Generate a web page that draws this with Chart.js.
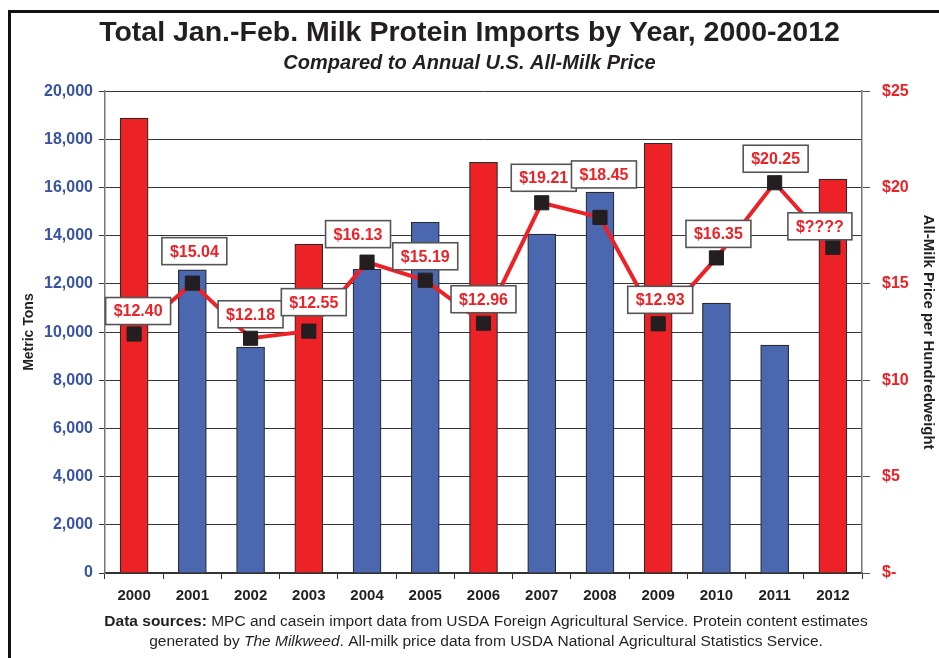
<!DOCTYPE html>
<html>
<head>
<meta charset="utf-8">
<script src="https://cdn.jsdelivr.net/npm/chart.js@4.4.1/dist/chart.umd.min.js"></script>
<style>
html, body { margin: 0; padding: 0; background: #fff; }
#wrap { position: relative; width: 939px; height: 658px; overflow: hidden; }
#frame { position: absolute; left: 8px; top: 10px; width: 1000px; height: 700px; border: 3px solid #111; }
#milkChart { position: absolute; left: 0; top: 0; }
</style>
</head>
<body>
<div id="wrap"><div id="frame"></div><canvas id="milkChart" width="939" height="658"></canvas></div>
<script>
const years = ['2000', '2001', '2002', '2003', '2004', '2005', '2006', '2007', '2008', '2009', '2010', '2011', '2012'];
const importTons = [18880, 12580, 9380, 13650, 12610, 14560, 17050, 14070, 15810, 17840, 11200, 9460, 16350];
const milkPrice = [12.40, 15.04, 12.18, 12.55, 16.13, 15.19, 12.96, 19.21, 18.45, 12.93, 16.35, 20.25, 16.90];
const priceLabels = ['$12.40', '$15.04', '$12.18', '$12.55', '$16.13', '$15.19', '$12.96', '$19.21', '$18.45', '$12.93', '$16.35', '$20.25', '$????'];
const redYears = ['2000', '2003', '2006', '2009', '2012'];

const RED = '#ec2227';
const BLUE = '#4a67b0';
const FONT = "'Liberation Sans', Arial, Helvetica, sans-serif";

// where each price box sits relative to its point (dx, dy of box centre)
const boxShift = [[4, -23], [2, -32], [0, -24], [5, -29], [-9, -28], [0, -24], [0, -24],
                  [2, -25], [4, -43], [2, -24], [2, -24], [1, -24], [-13, -21]];

const priceBoxes = {
    id: 'priceBoxes',
    afterDatasetsDraw(chart) {
        const ctx = chart.ctx;
        const meta = chart.getDatasetMeta(1);
        ctx.save();
        ctx.font = 'bold 16px ' + FONT;
        ctx.textAlign = 'center';
        ctx.textBaseline = 'middle';
        meta.data.forEach((pt, i) => {
            const cx = pt.x + boxShift[i][0];
            const cy = pt.y + boxShift[i][1];
            const w = ctx.measureText(priceLabels[i]).width + 16;
            const h = 27;
            ctx.fillStyle = '#fff';
            ctx.strokeStyle = '#555';
            ctx.lineWidth = 1.6;
            ctx.fillRect(cx - w / 2, cy - h / 2, w, h);
            ctx.strokeRect(cx - w / 2, cy - h / 2, w, h);
            ctx.fillStyle = RED;
            ctx.fillText(priceLabels[i], cx, cy + 1);
        });
        ctx.restore();
    }
};

const sourceNote = {
    id: 'sourceNote',
    afterDraw(chart) {
        const ctx = chart.ctx;
        const lines = [
            [['bold', 'Data sources: '], ['normal', 'MPC and casein import data from USDA Foreign Agricultural Service. Protein content estimates']],
            [['normal', 'generated by '], ['italic', 'The Milkweed'], ['normal', '. All-milk price data from USDA National Agricultural Statistics Service.']]
        ];
        const ys = [622, 642];
        ctx.save();
        ctx.fillStyle = '#231f20';
        ctx.textBaseline = 'middle';
        ctx.textAlign = 'left';
        lines.forEach((parts, li) => {
            let total = 0;
            parts.forEach(p => { ctx.font = p[0] + ' 15.5px ' + FONT; total += ctx.measureText(p[1]).width; });
            let x = 486 - total / 2;
            parts.forEach(p => {
                ctx.font = p[0] + ' 15.5px ' + FONT;
                ctx.fillText(p[1], x, ys[li]);
                x += ctx.measureText(p[1]).width;
            });
        });
        ctx.restore();
    }
};

Chart.defaults.font.family = FONT;

const ctx = document.getElementById('milkChart').getContext('2d');
new Chart(ctx, {
    data: {
        labels: years,
        datasets: [{
            type: 'bar',
            label: 'Milk protein imports (metric tons)',
            data: importTons,
            yAxisID: 'y',
            order: 1,
            backgroundColor: years.map(y => redYears.includes(y) ? RED : BLUE),
            borderColor: '#2a2a2a',
            borderWidth: 1.2,
            barThickness: 28
        }, {
            type: 'line',
            label: 'All-milk price',
            data: milkPrice,
            yAxisID: 'y1',
            order: 0,
            borderColor: RED,
            borderWidth: 4,
            pointStyle: 'rect',
            pointRadius: 10,
            pointBackgroundColor: '#231f20',
            pointBorderColor: '#231f20',
            pointBorderWidth: 1,
            tension: 0
        }]
    },
    options: {
        responsive: false,
        animation: false,
        layout: { padding: 0 },
        plugins: {
            legend: { display: false },
            tooltip: { enabled: false },
            title: {
                display: true,
                text: 'Total Jan.-Feb. Milk Protein Imports by Year, 2000-2012',
                color: '#231f20',
                font: { size: 28.5, weight: 'bold' },
                padding: { top: 16, bottom: 1 }
            },
            subtitle: {
                display: true,
                text: 'Compared to Annual U.S. All-Milk Price',
                color: '#231f20',
                font: { size: 20, weight: 'bold', style: 'italic' },
                padding: { top: 0, bottom: 16 }
            }
        },
        scales: {
            x: {
                afterFit: s => { s.height = 85; },
                grid: { offset: true, drawOnChartArea: false, tickLength: 6, color: '#333' },
                border: { color: '#333', width: 1.5 },
                ticks: { color: '#231f20', font: { size: 15, weight: 'bold' }, padding: 8 }
            },
            y: {
                position: 'left',
                min: 0,
                max: 20000,
                afterFit: s => { s.width = 105; },
                ticks: { stepSize: 2000, color: '#3953a4', font: { size: 16, weight: 'bold' }, padding: 6,
                         callback: v => v.toLocaleString('en-US') },
                grid: { color: '#333', lineWidth: 1, tickLength: 6 },
                border: { color: '#777', width: 1.5 },
                title: { display: true, text: 'Metric Tons', color: '#231f20',
                         font: { size: 14, weight: 'bold' }, padding: { top: 20.6, bottom: 0 } }
            },
            y1: {
                position: 'right',
                min: 0,
                max: 25,
                afterFit: s => { s.width = 77; },
                ticks: { stepSize: 5, color: RED, font: { size: 16, weight: 'bold' }, padding: 12,
                         callback: v => v === 0 ? '$-' : '$' + v },
                grid: { drawOnChartArea: false, color: '#555', tickLength: 8 },
                border: { color: '#777', width: 1.5 },
                title: { display: true, text: 'All-Milk Price per Hundredweight', color: '#231f20',
                         font: { size: 15, weight: 'bold' }, padding: { top: 2, bottom: 0 } }
            }
        }
    },
    plugins: [priceBoxes, sourceNote]
});
</script>
</body>
</html>
